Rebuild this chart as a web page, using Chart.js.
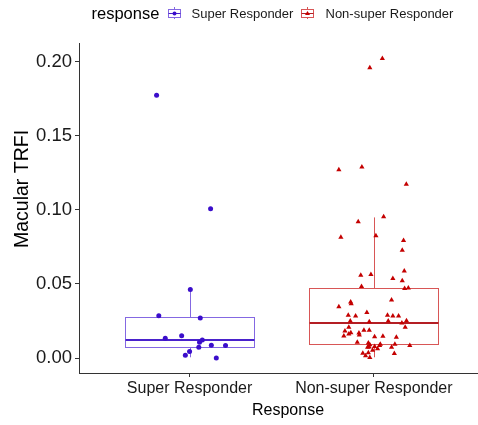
<!DOCTYPE html>
<html>
<head>
<meta charset="utf-8">
<script src="https://cdn.jsdelivr.net/npm/chart.js@4.4.1/dist/chart.umd.min.js"></script>
<style>
  html, body { margin: 0; padding: 0; background: #ffffff; }
  #wrap { width: 478px; height: 425px; position: relative; }
</style>
</head>
<body>
<div id="wrap"><canvas id="c" width="478" height="425"></canvas></div>
<script>
// ---------------- data ----------------
const categories = ["Super Responder", "Non-super Responder"];
const seriesNames = ["Super Responder", "Non-super Responder"];
const legendTitle = "response";
const xTitle = "Response";
const yTitle = "Macular TRFI";
const yTicks = [0.00, 0.05, 0.10, 0.15, 0.20];

// jittered category positions (1 = Super, 2 = Non-super) and values
const superX = [0.821, 1.114, 1.004, 0.833, 1.058, 0.957, 0.868, 1.069, 1.054, 1.118, 1.195, 1.050, 1.000, 0.977, 1.145];
const superY = [0.1773, 0.1007, 0.0462, 0.0286, 0.0270, 0.0151, 0.0133, 0.0122, 0.0106, 0.0086, 0.0084, 0.0073, 0.0044, 0.0019, 0.0000];

const nonSuperX = [2.046, 1.978, 1.810, 1.935, 2.176, 2.053, 1.915, 1.821, 2.011, 2.161,
  2.154, 2.165, 1.929, 1.984, 2.103, 2.154, 1.933, 2.167, 2.187, 2.096,
  1.874, 1.877, 1.810, 1.962, 1.861, 1.901, 2.074, 2.103, 2.134, 1.872,
  1.975, 2.078, 2.177, 2.152, 2.170, 1.864, 1.843, 1.875, 1.864, 1.946,
  1.975, 1.919, 1.921, 1.837, 2.004, 2.049, 2.122, 1.910, 1.970, 2.035,
  2.114, 1.978, 2.195, 1.975, 2.004, 1.966, 2.031, 2.096, 2.020, 1.993,
  1.940, 1.970, 2.111, 1.955, 1.978];
const nonSuperY = [0.2021, 0.1959, 0.1271, 0.1289, 0.1173, 0.0953, 0.0919, 0.0815, 0.0825, 0.0794,
  0.0727, 0.0588, 0.0559, 0.0563, 0.0536, 0.0521, 0.0483, 0.0469, 0.0472, 0.0391,
  0.0378, 0.0366, 0.0346, 0.0308, 0.0288, 0.0284, 0.0288, 0.0284, 0.0284, 0.0250,
  0.0245, 0.0250, 0.0252, 0.0237, 0.0207, 0.0207, 0.0183, 0.0171, 0.0163, 0.0187,
  0.0187, 0.0169, 0.0156, 0.0149, 0.0144, 0.0147, 0.0140, 0.0106, 0.0102, 0.0093,
  0.0093, 0.0089, 0.0084, 0.0075, 0.0077, 0.0073, 0.0084, 0.0073, 0.0062, 0.0052,
  0.0032, 0.0035, 0.0030, 0.0015, 0.0003];

// box statistics per category: [Super, Non-super]
const whiskerLow  = [0.0005, 0.0005];
const q1          = [0.0077, 0.0097];
const median      = [0.0122, 0.0239];
const q3          = [0.0277, 0.0472];
const whiskerHigh = [0.0462, 0.0949];

// ---------------- styles ----------------
const FONT = "'Liberation Sans', Arial, sans-serif";
const pointColors = ["#3B0ECB", "#C40000"];
const boxColors = ["#8468E2", "#D85656"];
const medianColors = ["#4A22CC", "#B41E24"];
const pointStyles = ["circle", "triangle"];
const BOX_HALF = 0.35;

function toPts(xs, ys) { return xs.map((x, i) => ({ x: x, y: ys[i] })); }

const boxPlugin = {
  id: 'boxes',
  beforeDatasetsDraw(chart) {
    const ctx = chart.ctx, xs = chart.scales.x, ys = chart.scales.y;
    for (let i = 0; i < categories.length; i++) {
      const c = i + 1;
      const xl = Math.round(xs.getPixelForValue(c - BOX_HALF)) + 0.5;
      const xr = Math.round(xs.getPixelForValue(c + BOX_HALF)) + 0.5;
      const xc = Math.round(xs.getPixelForValue(c)) + 0.5;
      const yq1 = Math.round(ys.getPixelForValue(q1[i])) + 0.5;
      const yq3 = Math.round(ys.getPixelForValue(q3[i])) + 0.5;
      const ym = ys.getPixelForValue(median[i]);
      const ywl = ys.getPixelForValue(whiskerLow[i]);
      const ywh = ys.getPixelForValue(whiskerHigh[i]);
      ctx.save();
      ctx.strokeStyle = boxColors[i];
      ctx.lineWidth = 1;
      ctx.beginPath();
      ctx.moveTo(xc, yq3); ctx.lineTo(xc, ywh);
      ctx.moveTo(xc, yq1); ctx.lineTo(xc, ywl);
      ctx.stroke();
      ctx.strokeRect(xl, yq3, xr - xl, yq1 - yq3);
      ctx.strokeStyle = medianColors[i];
      ctx.lineWidth = 2;
      ctx.beginPath();
      ctx.moveTo(xl, Math.round(ym)); ctx.lineTo(xr, Math.round(ym));
      ctx.stroke();
      ctx.restore();
    }
  }
};

function drawGlyph(ctx, cx, cy, i) {
  ctx.save();
  ctx.strokeStyle = boxColors[i];
  ctx.lineWidth = 1;
  ctx.beginPath();
  ctx.moveTo(cx + 0.5, cy - 6); ctx.lineTo(cx + 0.5, cy + 6);
  ctx.stroke();
  ctx.fillStyle = '#ffffff';
  ctx.fillRect(cx - 5.5, cy - 3.5, 12, 8);
  ctx.strokeRect(cx - 5.5, cy - 3.5, 12, 8);
  ctx.strokeStyle = medianColors[i];
  ctx.beginPath();
  ctx.moveTo(cx - 5.5, cy + 0.5); ctx.lineTo(cx + 6.5, cy + 0.5);
  ctx.stroke();
  ctx.fillStyle = pointColors[i];
  ctx.beginPath();
  if (pointStyles[i] === 'circle') {
    ctx.arc(cx + 0.5, cy + 0.5, 2, 0, Math.PI * 2);
  } else {
    ctx.moveTo(cx + 0.5, cy - 2); ctx.lineTo(cx + 3, cy + 2); ctx.lineTo(cx - 2, cy + 2); ctx.closePath();
  }
  ctx.fill();
  ctx.restore();
}

const decorPlugin = {
  id: 'decor',
  afterDraw(chart) {
    const ctx = chart.ctx;
    ctx.save();
    ctx.fillStyle = '#000000';
    ctx.textBaseline = 'middle';
    ctx.textAlign = 'left';
    ctx.font = '16.5px ' + FONT;
    ctx.fillText(legendTitle, 91.5, 14);
    drawGlyph(ctx, 174, 13, 0);
    ctx.font = '13px ' + FONT;
    ctx.fillStyle = '#1a1a1a';
    ctx.fillText(seriesNames[0], 191.5, 14);
    drawGlyph(ctx, 307, 13, 1);
    ctx.fillText(seriesNames[1], 325.5, 14);
    // axis titles
    ctx.fillStyle = '#000000';
    ctx.font = '16px ' + FONT;
    ctx.textAlign = 'center';
    ctx.fillText(xTitle, 288, 411);
    ctx.translate(23, 189);
    ctx.rotate(-Math.PI / 2);
    ctx.font = '19.5px ' + FONT;
    ctx.fillText(yTitle, 0, 0);
    ctx.restore();
  }
};

new Chart(document.getElementById('c'), {
  type: 'scatter',
  data: {
    datasets: [
      {
        label: seriesNames[0],
        data: toPts(superX, superY),
        pointStyle: pointStyles[0],
        radius: 2.5,
        backgroundColor: pointColors[0],
        borderColor: pointColors[0],
        borderWidth: 0
      },
      {
        label: seriesNames[1],
        data: toPts(nonSuperX, nonSuperY),
        pointStyle: pointStyles[1],
        radius: 3,
        backgroundColor: pointColors[1],
        borderColor: pointColors[1],
        borderWidth: 0
      }
    ]
  },
  options: {
    responsive: false,
    animation: false,
    events: [],
    layout: { autoPadding: false, padding: { top: 43, left: 0, right: 0, bottom: 0 } },
    plugins: { legend: { display: false }, tooltip: { enabled: false }, title: { display: false } },
    scales: {
      x: {
        type: 'linear',
        min: 0.4,
        max: 2.565,
        afterBuildTicks(s) { s.ticks = categories.map((c, i) => ({ value: i + 1 })); },
        afterFit(s) { s.height = 52; },
        ticks: {
          callback(v) { return categories[Math.round(v) - 1]; },
          font: { family: FONT, size: 16 },
          color: '#1a1a1a',
          padding: 2,
          maxRotation: 0,
          autoSkip: false
        },
        grid: { drawOnChartArea: false, drawTicks: true, tickLength: 4, color: '#333333' },
        border: { display: true, color: '#333333', width: 1 }
      },
      y: {
        type: 'linear',
        min: -0.0101,
        max: 0.2126,
        afterBuildTicks(s) { s.ticks = yTicks.map(v => ({ value: v })); },
        afterFit(s) { s.width = 79; },
        ticks: {
          callback(v) { return v.toFixed(2); },
          font: { family: FONT, size: 18.5 },
          color: '#1a1a1a',
          padding: 3
        },
        grid: { drawOnChartArea: false, drawTicks: true, tickLength: 4, color: '#333333' },
        border: { display: true, color: '#333333', width: 1 }
      }
    }
  },
  plugins: [boxPlugin, decorPlugin]
});
</script>
</body>
</html>
